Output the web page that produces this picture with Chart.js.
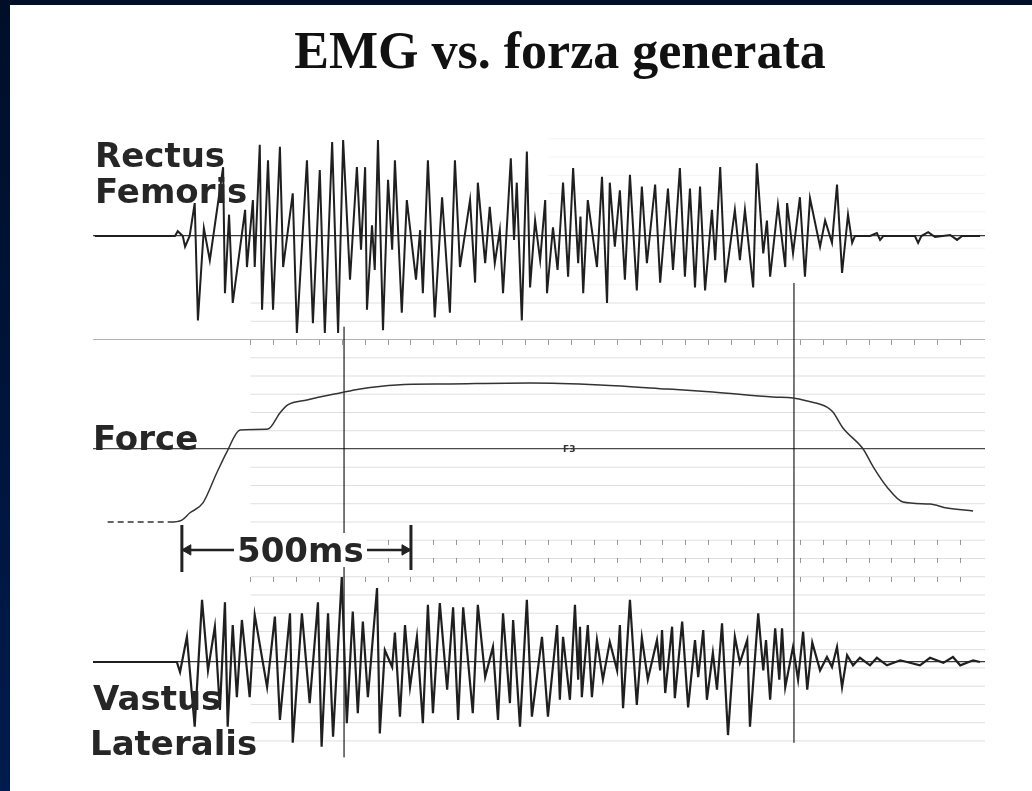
<!DOCTYPE html>
<html>
<head>
<meta charset="utf-8">
<script src="https://cdn.jsdelivr.net/npm/chart.js@4.4.1/dist/chart.umd.min.js"></script>
<style>
  html, body { margin: 0; padding: 0; }
  body { width: 1032px; height: 791px; position: relative; overflow: hidden;
         background: linear-gradient(to bottom, #000e28, #001b4d); }
  #panel { position: absolute; left: 10px; top: 5px; right: 0; bottom: 0; background: #fff; }
  #c { position: absolute; left: 0; top: 0; }
  .lbl { position: absolute; font-family: "DejaVu Sans", sans-serif; font-weight: bold;
         font-size: 34px; line-height: 34px; color: #262626; white-space: nowrap; }
  #title { position: absolute; left: 560px; top: 25px; transform: translateX(-50%);
           font-family: "Liberation Serif", serif; font-weight: bold; font-size: 52px;
           line-height: 52px; color: #111; white-space: nowrap; }
  #bar { background: #fff; padding: 0 3px; }
  #f3 { position: absolute; left: 563px; top: 444px; font: bold 9px "DejaVu Sans", sans-serif; color: #333; }
</style>
</head>
<body>
<div id="panel"></div>
<canvas id="c" width="1032" height="791"></canvas>
<div id="title">EMG vs. forza generata</div>
<div class="lbl" style="left:95px;top:138px">Rectus</div>
<div class="lbl" style="left:95px;top:174px">Femoris</div>
<div class="lbl" style="left:93px;top:421px">Force</div>
<div class="lbl" style="left:93px;top:681px">Vastus</div>
<div class="lbl" style="left:90px;top:726px">Lateralis</div>
<div class="lbl" id="bar" style="left:234px;top:533px">500ms</div>
<div id="f3">F3</div>
<script>
// ---- data (time in ms, EMG in mV, force in % of peak) ----
const rectusFemoris = [
  [-190,0],[-15,0],[-9,0.05],[2,0],[7,-0.11],[17,0],
  [28,0.34],[35,-0.87],[48,0.08],[61,-0.25],[90,0.71],[94,-0.59],[103,0.22],[111,-0.69],
  [138,0.27],[142,-0.32],[155,0.37],[159,-0.32],[170,0.94],[175,-0.76],[188,0.78],[199,-0.76],
  [214,0.92],[221,-0.32],[242,0.44],[251,-1.00],[273,0.78],[286,-0.90],[301,0.68],[312,-1.00],
  [328,0.97],[341,-1.00],[352,0.99],[367,-0.45],[382,0.71],[391,-0.14],[400,0.71],[404,-0.76],
  [415,0.11],[421,-0.35],[428,0.99],[439,-0.97],[450,0.58],[459,-0.14],[465,0.78],[480,-0.79],
  [491,0.37],[511,-0.45],[520,0.06],[526,-0.59],[537,0.78],[552,-0.84],[568,0.40],[585,-0.79],
  [596,0.78],[607,-0.32],[629,0.37],[640,-0.48],[646,0.55],[662,-0.28],[672,0.30],[683,-0.28],
  [694,0.06],[701,-0.59],[718,0.80],[725,-0.04],[731,0.55],[742,-0.87],[753,0.87],[760,-0.53],
  [771,0.16],[782,-0.25],[793,0.37],[797,-0.59],[810,0.09],[820,-0.35],[832,0.55],[843,-0.42],
  [854,0.70],[865,-0.28],[870,0.20],[876,-0.59],[886,0.37],[906,-0.32],[917,0.61],[928,-0.69],
  [934,0.55],[945,-0.11],[956,0.47],[967,-0.45],[978,0.63],[993,-0.56],[1004,0.51],[1015,-0.28],
  [1033,0.53],[1044,-0.48],[1061,0.49],[1072,-0.35],[1087,0.70],[1098,-0.42],[1109,0.49],[1120,-0.53],
  [1131,0.51],[1142,-0.56],[1157,0.27],[1164,-0.25],[1175,0.71],[1186,-0.48],[1207,0.27],[1218,-0.25],
  [1229,0.27],[1247,-0.53],[1255,0.75],[1269,-0.18],[1277,0.16],[1284,-0.42],[1301,0.32],[1317,-0.32],
  [1321,0.34],[1334,-0.18],[1349,0.40],[1360,-0.42],[1371,0.39],[1393,-0.11],[1404,0.16],[1419,-0.07],
  [1430,0.53],[1441,-0.38],[1454,0.22],[1463,-0.07],[1469,0],[1502,0],[1517,0.03],[1524,-0.04],
  [1531,0],[1600,0],[1607,-0.07],[1614,0],[1629,0.04],[1644,-0.01],[1677,0.01],[1692,-0.04],
  [1703,0],[1742,0]
];

const vastusLateralis = [
  [-194,0],[-11,0],[-4,-0.12],[11,0.30],[28,-0.77],[44,0.74],[57,-0.10],[72,0.42],[83,-0.57],
  [94,0.71],[100,-0.77],[111,0.44],[120,-0.42],[131,0.50],[148,-0.42],[159,0.56],[186,-0.30],
  [203,0.54],[214,-0.69],[236,0.58],[242,-0.96],[262,0.58],[279,-0.49],[297,0.71],[305,-1.01],
  [319,0.58],[330,-0.89],[349,1.01],[360,-0.73],[373,0.60],[384,-0.61],[395,0.48],[406,-0.42],
  [426,0.88],[432,-0.85],[443,0.14],[459,-0.06],[465,0.35],[476,-0.65],[487,0.44],[498,-0.30],
  [513,0.30],[526,-0.73],[537,0.68],[548,-0.61],[563,0.70],[579,-0.33],[592,0.65],[603,-0.69],
  [614,0.65],[635,-0.61],[646,0.68],[662,-0.18],[679,0.18],[690,-0.69],[701,0.58],[716,-0.49],
  [723,0.50],[738,-0.77],[753,0.74],[764,-0.65],[786,0.30],[799,-0.65],[819,0.44],[825,-0.45],
  [832,0.30],[847,-0.45],[858,0.68],[865,-0.21],[869,0.42],[873,-0.42],[886,0.44],[895,-0.42],
  [906,0.26],[919,-0.21],[934,0.24],[950,-0.10],[956,0.44],[963,-0.55],[978,0.74],[993,-0.51],
  [1004,0.29],[1017,-0.21],[1037,0.26],[1044,-0.10],[1048,0.38],[1055,-0.37],[1070,0.42],[1076,-0.43],
  [1092,0.48],[1105,-0.54],[1120,0.26],[1127,-0.18],[1138,0.38],[1146,-0.45],[1159,0.11],[1168,-0.33],
  [1179,0.46],[1192,-0.87],[1207,0.30],[1218,-0.01],[1234,0.26],[1240,-0.77],[1258,0.58],[1269,-0.10],
  [1275,0.26],[1284,-0.45],[1295,0.40],[1304,-0.21],[1310,0.40],[1317,-0.30],[1334,0.18],[1345,-0.21],
  [1356,0.36],[1365,-0.33],[1376,0.23],[1393,-0.10],[1408,0.06],[1419,-0.06],[1430,0.18],[1441,-0.30],
  [1452,0.08],[1465,-0.04],[1480,0.05],[1502,-0.04],[1517,0.05],[1539,-0.04],[1568,0.02],[1611,-0.04],
  [1633,0.05],[1662,-0.01],[1683,0.06],[1699,-0.04],[1727,0.02],[1742,0]
];

const forceTrace = [
  [-162,0],[-26,0],[0,1.4],[17,6.5],[46,13.8],[76,35.5],[98,50.7],[127,66.7],[188,67.4],
  [214,79.0],[231,84.8],[273,88.4],[345,93.5],[389,96.4],[469,99.3],[585,100],[760,100.7],
  [913,99.3],[1059,96.4],[1159,94.2],[1290,90.6],[1334,89.9],[1365,87.7],[1408,83.3],[1421,79.7],
  [1443,68.1],[1487,52.9],[1509,39.9],[1539,25.4],[1574,14.5],[1633,13.0],[1670,10.1],[1727,8.0]
];

// faint vertical reference lines on the chart paper: time (ms), top / bottom (paper rows)
const markerTimes  = [354, 1336];
const markerTop    = [10.7, 13.1];
const markerBottom = [-12.9, -12.1];

// 500 ms calibration bar
const scaleBarMs = [0, 500];

// ---- layout / style ----
const X_MIN = -194, X_MAX = 1753;
const BAR_LEVEL = -1.53, BAR_TOP = -0.16, BAR_BOTTOM = [-2.74, -2.63];
const ARROW_INSET = 13;
const INK = '#1f1f1f';

const toXY = arr => arr.map(p => ({ x: p[0], y: p[1] }));

function tickRow(level) {
  return {
    type: 'linear', axis: 'x', position: { paper: level }, min: X_MIN, max: X_MAX,
    ticks: { display: false, stepSize: 50, autoSkip: false },
    grid: { drawOnChartArea: false, drawTicks: true, tickLength: 5,
            tickColor: 'rgba(0,0,0,0.4)', tickWidth: 1 },
    border: { display: false },
    afterBuildTicks: ax => {
      ax.ticks = ax.ticks.filter(t => t.value % 50 === 0 && t.value >= 150 && t.value <= 1700);
    }
  };
}

// chart-paper rule lines (partial width), as gapped segments on the paper scale
function paperRules(from, to, rowLo, rowHi, skip) {
  const pts = [];
  for (let k = rowLo; k <= rowHi; k++) {
    if (skip.includes(k)) continue;
    pts.push({ x: from, y: k }, { x: to, y: k }, { x: to, y: null });
  }
  return pts;
}

const datasets = [
  { label: 'Rectus Femoris', data: toXY(rectusFemoris), yAxisID: 'rf',
    borderColor: INK, borderWidth: 2 },
  { label: 'Force', data: toXY(forceTrace), yAxisID: 'force',
    borderColor: '#333', borderWidth: 1.5, cubicInterpolationMode: 'monotone',
    segment: { borderDash: ctx => ctx.p1.parsed.x <= -20 ? [6, 4] : undefined } },
  { label: 'Vastus Lateralis', data: toXY(vastusLateralis), yAxisID: 'vl',
    borderColor: INK, borderWidth: 2.2 },
  { label: 'rules', yAxisID: 'paper', data: paperRules(150, X_MAX, -12, 12, [4, 10]),
    borderColor: 'rgba(0,0,0,0.13)', borderWidth: 1, spanGaps: false, order: 10 },
  { label: 'rulesTop', yAxisID: 'paper', data: paperRules(800, X_MAX, 13, 21, []),
    borderColor: 'rgba(0,0,0,0.05)', borderWidth: 1, spanGaps: false, order: 10 }
];

markerTimes.forEach((t, i) => {
  datasets.push({ label: 'marker' + i, yAxisID: 'paper',
    data: [{ x: t, y: markerTop[i] }, { x: t, y: markerBottom[i] }],
    borderColor: 'rgba(0,0,0,0.45)', borderWidth: 1, order: 5 });
});

datasets.push({ label: 'bar', yAxisID: 'paper',
  data: [{ x: scaleBarMs[0], y: BAR_LEVEL }, { x: scaleBarMs[1], y: BAR_LEVEL }],
  borderColor: '#222', borderWidth: 2.5 });
scaleBarMs.forEach((t, i) => {
  datasets.push({ label: 'barEnd' + i, yAxisID: 'paper',
    data: [{ x: t, y: BAR_TOP }, { x: t, y: BAR_BOTTOM[i] }],
    borderColor: '#222', borderWidth: 3 });
});
datasets.push({ label: 'arrows', yAxisID: 'paper', showLine: false,
  data: [{ x: scaleBarMs[0] + ARROW_INSET, y: BAR_LEVEL }, { x: scaleBarMs[1] - ARROW_INSET, y: BAR_LEVEL }],
  pointStyle: 'triangle', pointRadius: 6, pointRotation: [-90, 90],
  pointBackgroundColor: '#222', pointBorderColor: '#222', pointBorderWidth: 1 });

new Chart(document.getElementById('c'), {
  type: 'line',
  data: { datasets },
  options: {
    responsive: false, animation: false, devicePixelRatio: 1,
    layout: { padding: { left: 93, right: 47, top: 120, bottom: 11 } },
    plugins: { legend: { display: false }, tooltip: { enabled: false } },
    elements: { point: { radius: 0 }, line: { tension: 0 } },
    scales: {
      x: { type: 'linear', display: false, min: X_MIN, max: X_MAX },
      force: { type: 'linear', axis: 'y', display: false, min: -186.96, max: 291.3 },
      rf: { type: 'linear', axis: 'y', position: { x: X_MIN }, min: -5.608, max: 1.196,
            ticks: { display: false }, border: { display: false },
            grid: { drawTicks: false, color: '#3a3a3a', lineWidth: 1.2 },
            afterBuildTicks: ax => { ax.ticks = [{ value: 0 }]; } },
      vl: { type: 'linear', axis: 'y', position: { x: X_MIN }, min: -1.405, max: 6.452,
            ticks: { display: false }, border: { display: false },
            grid: { drawTicks: false, color: '#3a3a3a', lineWidth: 1.2 },
            afterBuildTicks: ax => { ax.ticks = [{ value: 0 }]; } },
      paper: { type: 'linear', axis: 'y', position: { x: X_MIN }, min: -14.14, max: 22.03,
            ticks: { display: false }, border: { display: false },
            grid: { drawTicks: false,
                    color: c => c.tick.value === 4 ? '#4a4a4a' : 'rgba(0,0,0,0.3)',
                    lineWidth: c => c.tick.value === 4 ? 1.3 : 1 },
            afterBuildTicks: ax => { ax.ticks = [{ value: 4 }, { value: 10 }]; } },
      tm1: tickRow(10),
      tm2: tickRow(-1),
      tm3: tickRow(-2),
      tm4: tickRow(-3)
    }
  }
});
</script>
</body>
</html>
